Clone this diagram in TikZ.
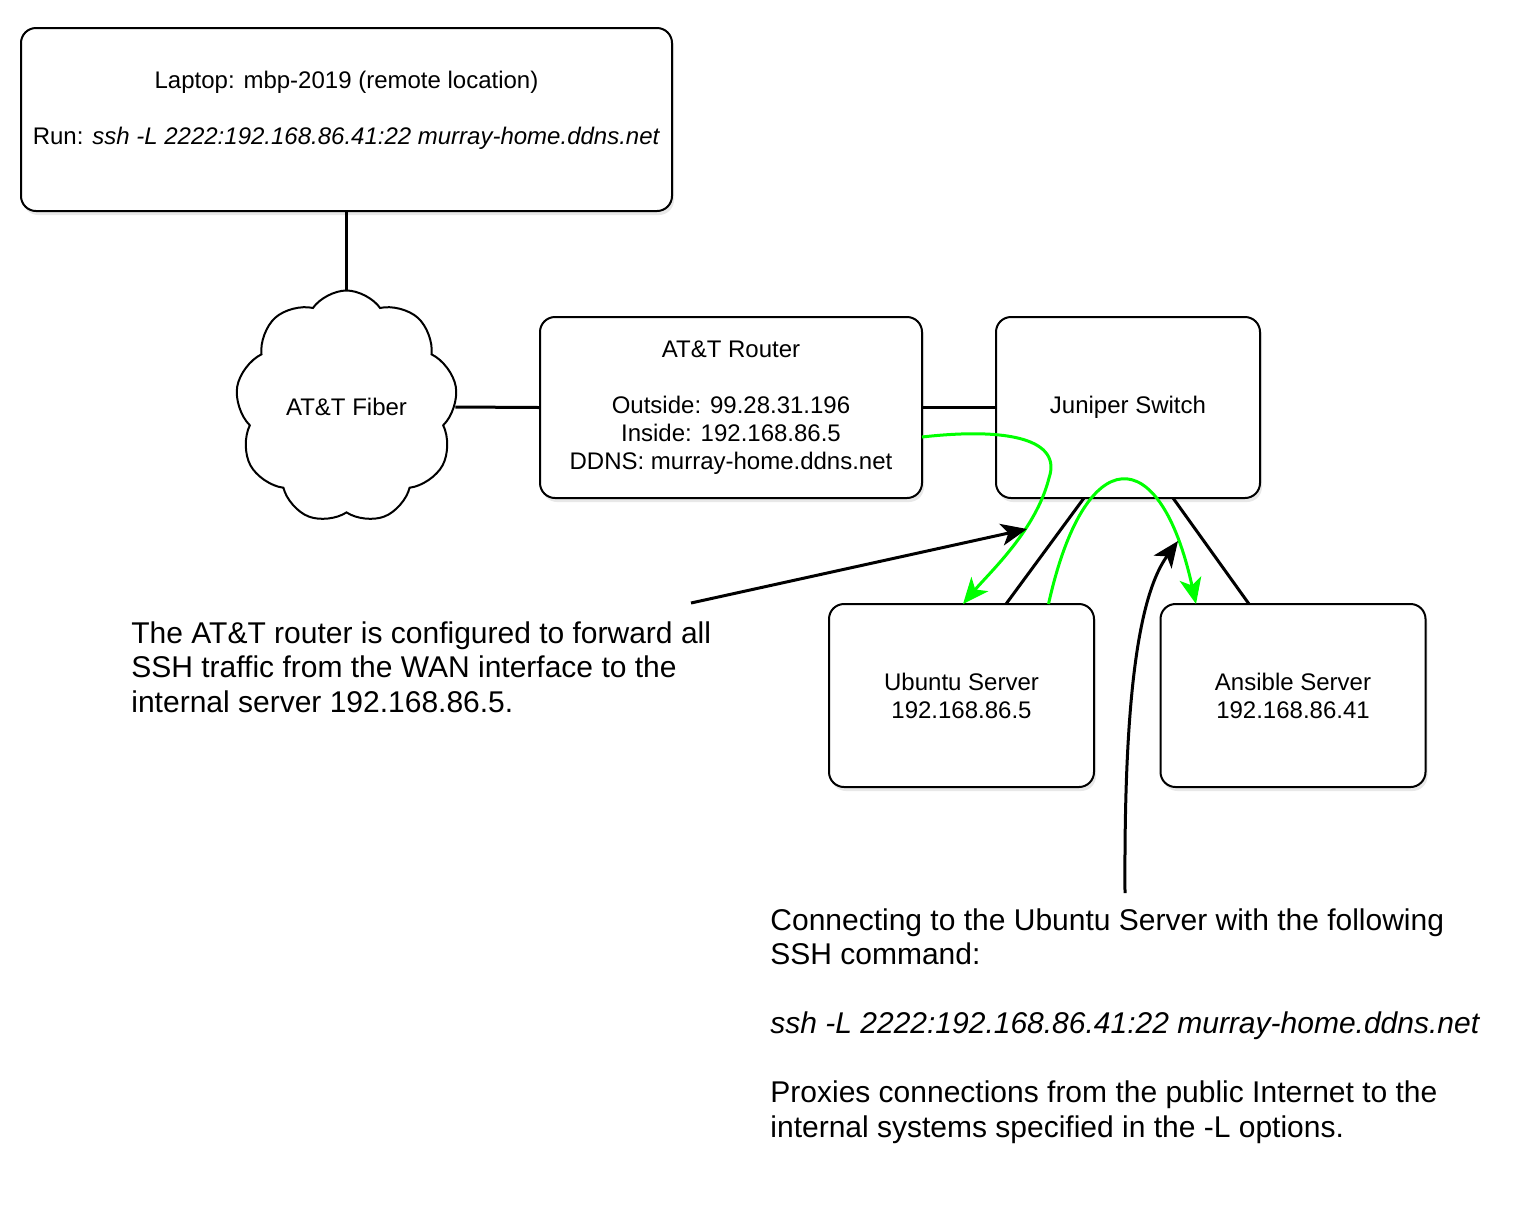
\documentclass[tikz,border=0pt]{standalone}
\usepackage{fontspec}
\setmainfont{Liberation Sans}
\usetikzlibrary{shapes.symbols,arrows.meta,calc,shadows}
\definecolor{tunnelgreen}{RGB}{0,255,0}

\begin{document}
\begin{tikzpicture}[x=0.5pt, y=-0.5pt,
    device/.style={draw, rounded corners=7.5pt, line width=1pt, fill=white,
      align=center, inner sep=0pt, outer sep=0pt,
      font=\fontsize{12}{14}\selectfont,
      drop shadow={shadow xshift=1pt, shadow yshift=-2pt, opacity=0.18}},
    link/.style={line width=1.5pt},
    tunnel/.style={line width=1.5pt, draw=tunnelgreen,
      -{Stealth[length=13pt, width=11pt, inset=3.5pt]}},
    callout/.style={line width=1.5pt,
      -{Stealth[length=13pt, width=11pt, inset=3.5pt]}},
    note/.style={align=left, inner sep=0pt, font=\fontsize{15}{17.25}\selectfont}]
  \useasboundingbox (0,0) rectangle (1514,1212);

  % devices
  \node[device, minimum width=325.5pt, minimum height=91.5pt] (laptop) at (346.5,119.5)
    {Laptop: mbp-2019 (remote location)\\[14pt]
     Run: \textit{ssh -L 2222:192.168.86.41:22 murray-home.ddns.net}\\[-2pt] ~};
  \node[draw, cloud, cloud puffs=9, cloud puff arc=110, aspect=0.95, line width=1pt,
    minimum width=111pt, minimum height=116.5pt, inner sep=0pt,
    font=\fontsize{12}{14}\selectfont] (fiber) at (346.5,407) {AT\&T Fiber};
  \node[device, minimum width=191pt, minimum height=90.5pt] (router) at (731,407.5)
    {AT\&T Router\\[14pt] Outside: 99.28.31.196\\ Inside: 192.168.86.5\\ DDNS: murray-home.ddns.net};
  \node[device, minimum width=132pt, minimum height=90.5pt] (juniper) at (1128,407.5) {Juniper Switch};
  \node[device, minimum width=132.5pt, minimum height=91.5pt] (ubuntu) at (961.5,695.5)
    {Ubuntu Server\\ 192.168.86.5};
  \node[device, minimum width=132.5pt, minimum height=91.5pt] (ansible) at (1293,695.5)
    {Ansible Server\\ 192.168.86.41};

  % notes
  \node[note, anchor=west] (wannote) at (131,667)
    {The AT\&T router is configured to forward all\\
     SSH traffic from the WAN interface to the\\
     internal server 192.168.86.5.};
  \node[note, anchor=west] (sshnote) at (770,1026)
    {Connecting to the Ubuntu Server with the following\\
     SSH command:\\[17.25pt]
     \textit{ssh -L 2222:192.168.86.41:22 murray-home.ddns.net}\\[17.25pt]
     Proxies connections from the public Internet to the\\
     internal systems specified in the -L options.};

  % cabling
  \draw[link] (laptop.south) -- (fiber.north);
  \draw[link] (fiber.east) -- (router.west);
  \draw[link] (router.east) -- (juniper.west);
  \draw[link] ($(juniper.south)+(-44,0)$) -- ($(ubuntu.north)+(44.5,0)$);
  \draw[link] ($(juniper.south)+(45,0)$) -- ($(ansible.north)+(-44,0)$);

  % ssh tunnel
  \draw[tunnel] ($(router.east)+(0,29.5)$) .. controls (1010,427) and (1062,440) .. (1049,478)
    .. controls (1036,530) and (990,572) .. ($(ubuntu.north)+(1.5,0)$);
  \draw[tunnel] ($(ubuntu.north)+(87,0)$) .. controls (1085,440) and (1160,440)
    .. ($(ansible.north)+(-97,0)$);

  % pointers from the notes
  \coordinate (wantail) at (691,603);
  \coordinate (wantip) at (1027,529);
  \coordinate (sshtail) at (1125,893);
  \coordinate (sshtip) at (1178,541);
  \draw[callout] (wantail) -- (wantip);
  \draw[callout] (sshtail) .. controls (1124,720) and (1135,600) .. (sshtip);
\end{tikzpicture}
\end{document}
